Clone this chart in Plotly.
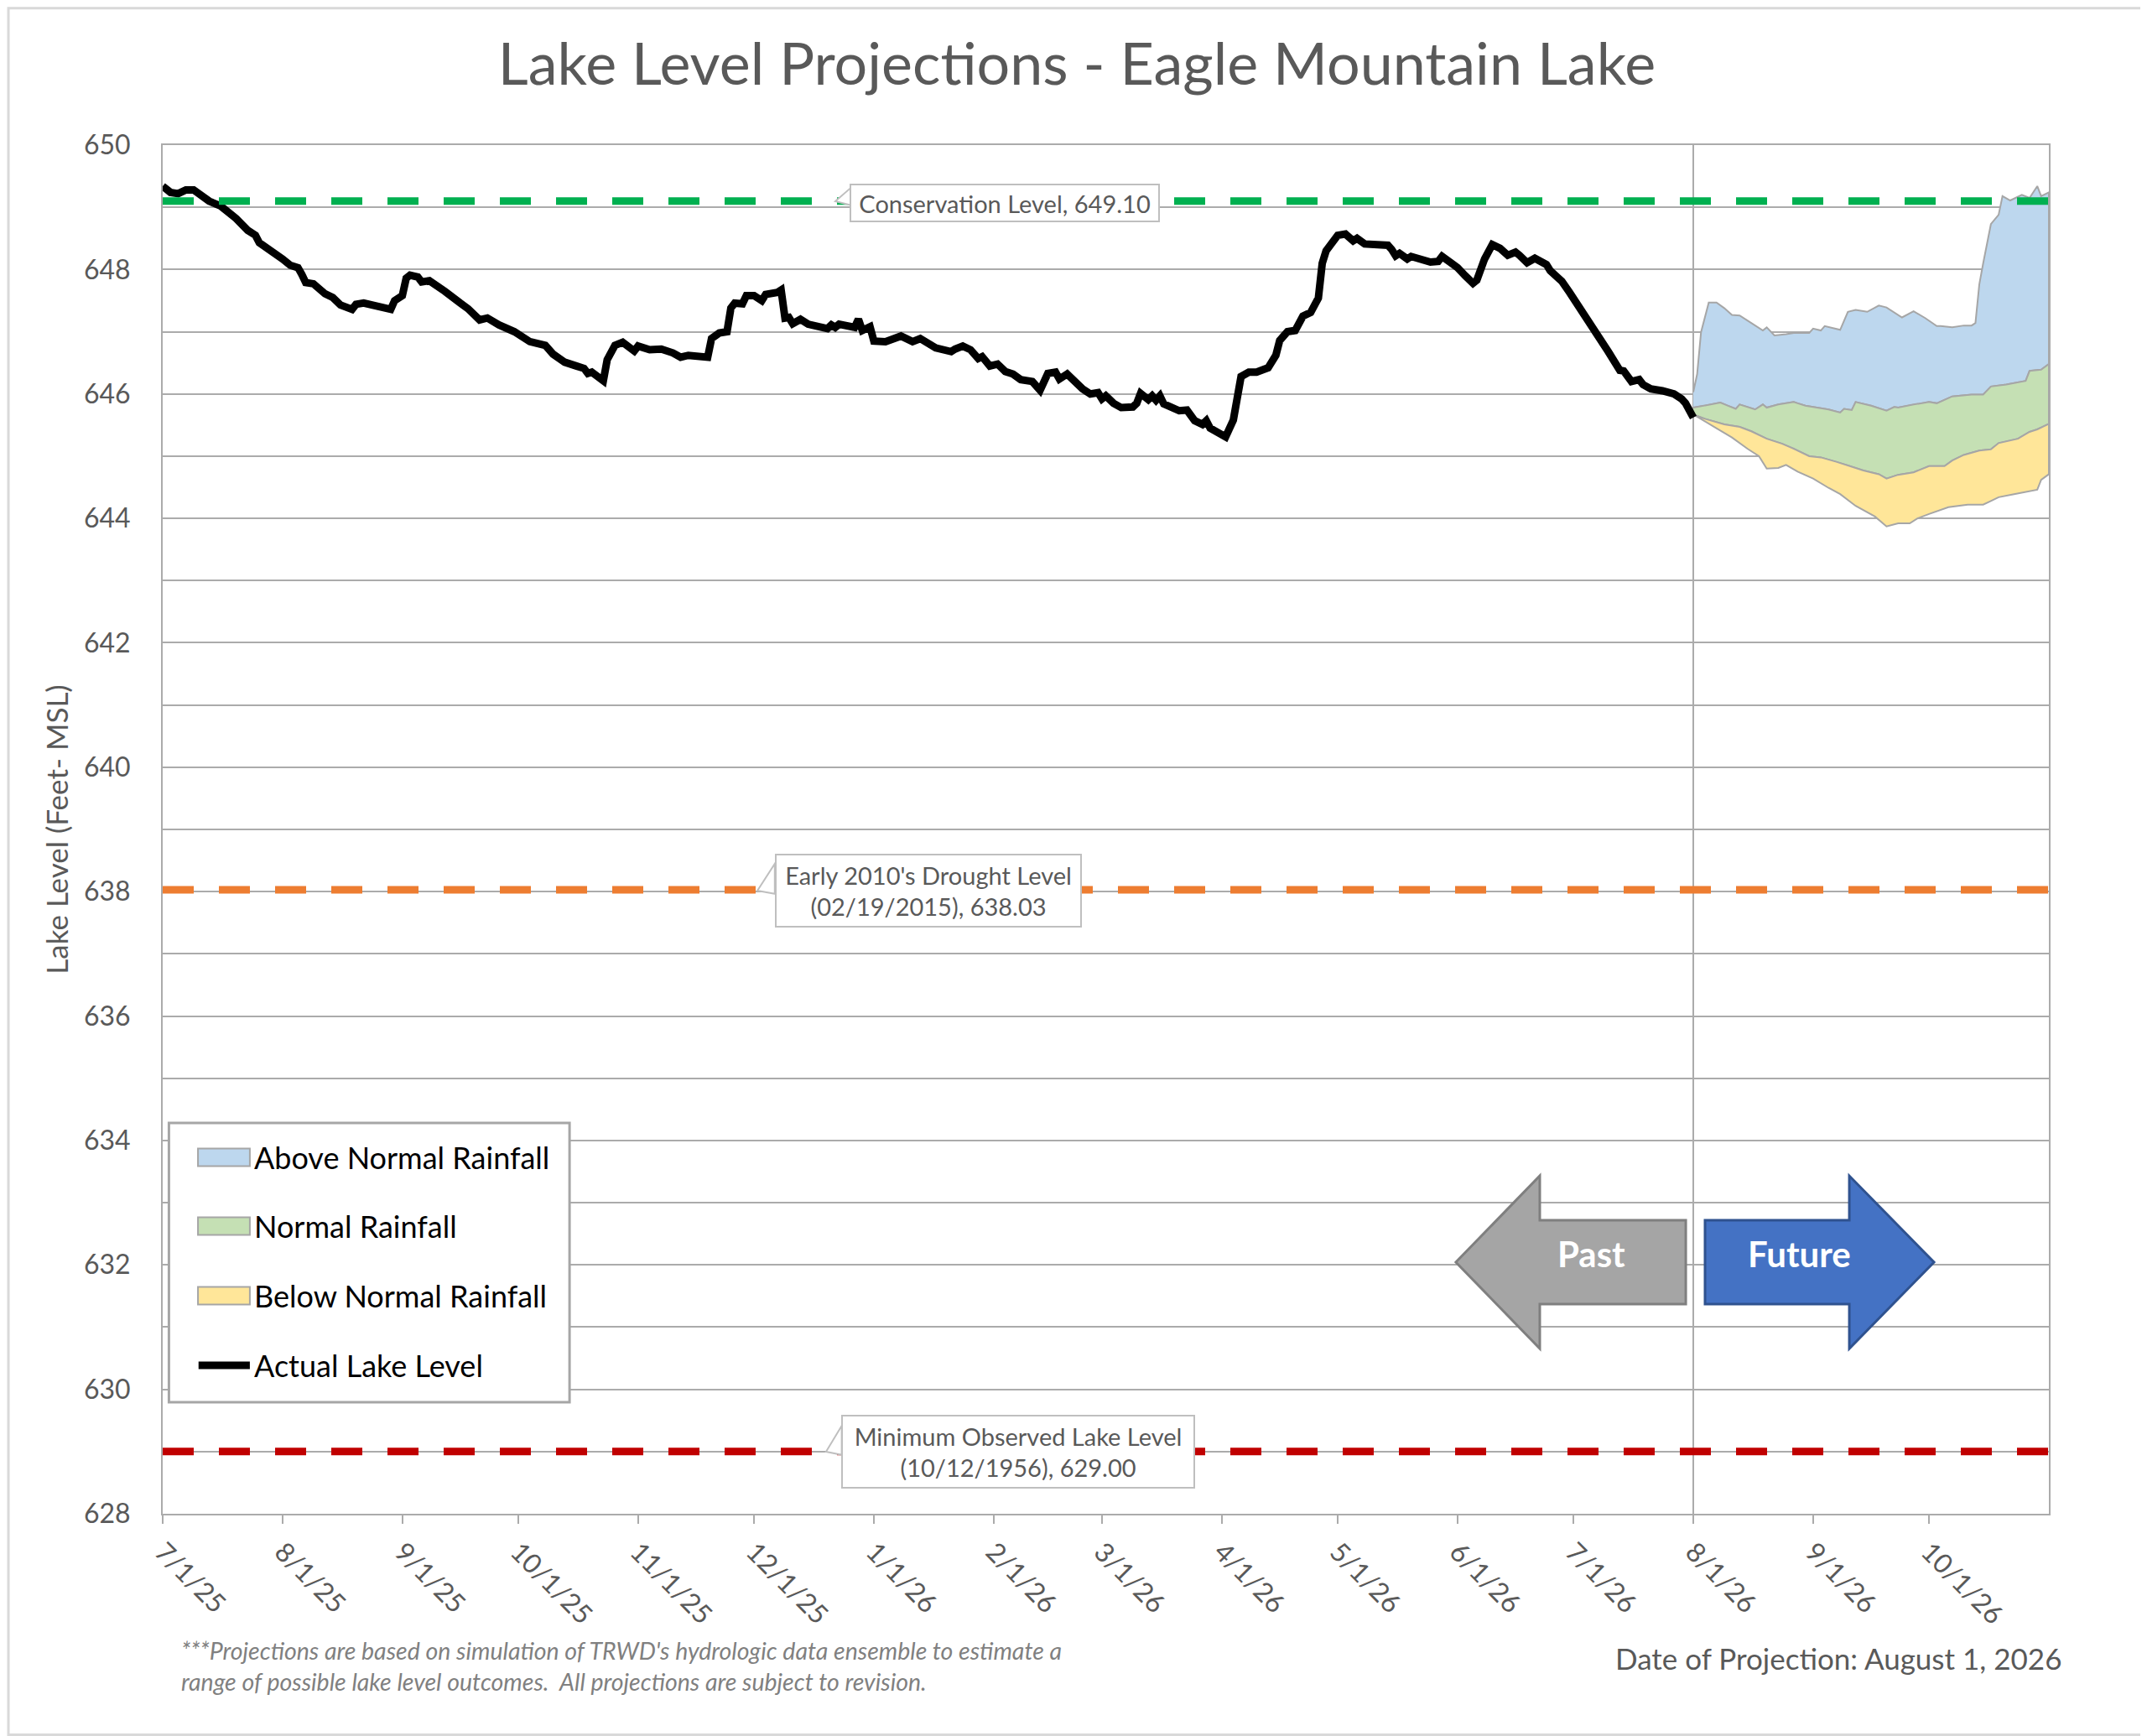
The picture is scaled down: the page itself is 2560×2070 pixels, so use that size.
import plotly.graph_objects as go

# ── Data ──────────────────────────────────────────────────────────────────────

actual_dates = [
    "2025-07-01", "2025-07-03", "2025-07-05", "2025-07-07", "2025-07-09", "2025-07-11",
    "2025-07-13", "2025-07-16", "2025-07-20", "2025-07-23", "2025-07-25", "2025-07-26",
    "2025-07-30", "2025-08-01", "2025-08-03", "2025-08-05", "2025-08-06", "2025-08-07",
    "2025-08-09", "2025-08-12", "2025-08-14", "2025-08-16", "2025-08-19", "2025-08-20",
    "2025-08-22", "2025-08-25", "2025-08-29", "2025-08-30", "2025-09-01", "2025-09-02",
    "2025-09-03", "2025-09-05", "2025-09-06", "2025-09-08", "2025-09-10", "2025-09-12",
    "2025-09-16", "2025-09-18", "2025-09-21", "2025-09-23", "2025-09-26", "2025-09-30",
    "2025-10-04", "2025-10-08", "2025-10-10", "2025-10-13", "2025-10-16", "2025-10-18",
    "2025-10-19", "2025-10-20", "2025-10-23", "2025-10-24", "2025-10-26", "2025-10-28",
    "2025-10-31", "2025-11-01", "2025-11-04", "2025-11-07", "2025-11-10", "2025-11-12",
    "2025-11-14", "2025-11-19", "2025-11-20", "2025-11-22", "2025-11-24", "2025-11-25",
    "2025-11-26", "2025-11-28", "2025-11-29", "2025-12-01", "2025-12-03", "2025-12-04",
    "2025-12-07", "2025-12-08", "2025-12-09", "2025-12-10", "2025-12-11", "2025-12-13",
    "2025-12-15", "2025-12-17", "2025-12-20", "2025-12-21", "2025-12-22", "2025-12-23",
    "2025-12-27", "2025-12-28", "2025-12-29", "2025-12-31", "2026-01-01", "2026-01-04",
    "2026-01-06", "2026-01-08", "2026-01-11", "2026-01-13", "2026-01-17", "2026-01-21",
    "2026-01-22", "2026-01-24", "2026-01-26", "2026-01-28", "2026-01-29", "2026-01-31",
    "2026-02-02", "2026-02-04", "2026-02-06", "2026-02-08", "2026-02-11", "2026-02-13",
    "2026-02-15", "2026-02-17", "2026-02-18", "2026-02-20", "2026-02-24", "2026-02-26",
    "2026-02-28", "2026-03-01", "2026-03-02", "2026-03-04", "2026-03-06", "2026-03-09",
    "2026-03-10", "2026-03-11", "2026-03-13", "2026-03-14", "2026-03-15", "2026-03-16",
    "2026-03-17", "2026-03-19", "2026-03-21", "2026-03-23", "2026-03-25", "2026-03-27",
    "2026-03-28", "2026-03-29", "2026-03-31", "2026-04-02", "2026-04-04", "2026-04-05",
    "2026-04-06", "2026-04-08", "2026-04-10", "2026-04-13", "2026-04-15", "2026-04-16",
    "2026-04-18", "2026-04-20", "2026-04-22", "2026-04-24", "2026-04-26", "2026-04-27",
    "2026-04-28", "2026-05-01", "2026-05-03", "2026-05-05", "2026-05-06", "2026-05-08",
    "2026-05-10", "2026-05-14", "2026-05-15", "2026-05-16", "2026-05-17", "2026-05-19",
    "2026-05-20", "2026-05-23", "2026-05-25", "2026-05-27", "2026-05-28", "2026-05-30",
    "2026-06-01", "2026-06-03", "2026-06-05", "2026-06-06", "2026-06-07", "2026-06-08",
    "2026-06-10", "2026-06-12", "2026-06-14", "2026-06-16", "2026-06-17", "2026-06-19",
    "2026-06-21", "2026-06-24", "2026-06-25", "2026-06-27", "2026-06-28", "2026-06-30",
    "2026-07-03", "2026-07-07", "2026-07-10", "2026-07-13", "2026-07-14", "2026-07-16",
    "2026-07-18", "2026-07-19", "2026-07-21", "2026-07-24", "2026-07-27", "2026-07-29",
    "2026-07-30", "2026-08-01",
]
actual_level = [
    649.34, 649.24, 649.22, 649.28, 649.28, 649.18,
    649.10, 649.02, 648.82, 648.63, 648.55, 648.43,
    648.28, 648.17, 648.07, 648.03, 647.92, 647.79,
    647.77, 647.61, 647.55, 647.43, 647.36, 647.44,
    647.46, 647.42, 647.36, 647.50, 647.58, 647.86,
    647.91, 647.88, 647.80, 647.82, 647.72, 647.65,
    647.46, 647.37, 647.19, 647.22, 647.11, 647.00,
    646.84, 646.78, 646.64, 646.51, 646.45, 646.41,
    646.33, 646.35, 646.21, 646.55, 646.78, 646.83,
    646.69, 646.77, 646.71, 646.72, 646.66, 646.59,
    646.62, 646.59, 646.89, 646.98, 647.00, 647.38,
    647.46, 647.45, 647.58, 647.58, 647.50, 647.60,
    647.63, 647.67, 647.22, 647.23, 647.13, 647.20,
    647.12, 647.10, 647.05, 647.11, 647.07, 647.12,
    647.07, 647.20, 647.02, 647.08, 646.85, 646.84,
    646.87, 646.93, 646.84, 646.89, 646.74, 646.68,
    646.72, 646.77, 646.71, 646.57, 646.60, 646.45,
    646.48, 646.36, 646.32, 646.23, 646.20, 646.06,
    646.33, 646.35, 646.24, 646.32, 646.08, 646.00,
    646.02, 645.92, 645.97, 645.85, 645.78, 645.79,
    645.85, 646.01, 645.91, 645.97, 645.90, 645.97,
    645.84, 645.78, 645.73, 645.74, 645.57, 645.51,
    645.57, 645.45, 645.38, 645.31, 645.58, 646.01,
    646.28, 646.35, 646.35, 646.42, 646.62, 646.86,
    647.00, 647.02, 647.25, 647.31, 647.54, 648.10,
    648.30, 648.55, 648.57, 648.46, 648.50, 648.41,
    648.41, 648.39, 648.32, 648.22, 648.26, 648.17,
    648.21, 648.14, 648.12, 648.13, 648.21, 648.12,
    648.03, 647.90, 647.78, 647.83, 648.05, 648.17,
    648.40, 648.34, 648.23, 648.28, 648.23, 648.11,
    648.18, 648.08, 647.98, 647.87, 647.81, 647.63,
    647.36, 647.00, 646.68, 646.38, 646.37, 646.20,
    646.23, 646.15, 646.08, 646.05, 646.00, 645.92,
    645.85, 645.62,
]

# upper edge of the above-normal band
above_hi_dates = [
    "2026-08-01", "2026-08-02", "2026-08-03", "2026-08-05", "2026-08-07", "2026-08-09",
    "2026-08-11", "2026-08-13", "2026-08-16", "2026-08-19", "2026-08-20", "2026-08-22",
    "2026-08-25", "2026-08-27", "2026-08-31", "2026-09-01", "2026-09-03", "2026-09-04",
    "2026-09-08", "2026-09-10", "2026-09-12", "2026-09-15", "2026-09-18", "2026-09-20",
    "2026-09-24", "2026-09-27", "2026-09-30", "2026-10-03", "2026-10-04", "2026-10-07",
    "2026-10-10", "2026-10-12", "2026-10-13", "2026-10-14", "2026-10-15", "2026-10-17",
    "2026-10-19", "2026-10-20", "2026-10-22", "2026-10-25", "2026-10-27", "2026-10-29",
    "2026-10-30", "2026-11-01",
]
above_hi = [
    646.03, 646.32, 646.99, 647.47, 647.47, 647.38,
    647.27, 647.26, 647.14, 647.02, 647.07, 646.94,
    646.96, 646.98, 646.98, 647.05, 647.02, 647.09,
    647.03, 647.32, 647.35, 647.32, 647.42, 647.39,
    647.23, 647.33, 647.22, 647.09, 647.09, 647.07,
    647.10, 647.10, 647.14, 647.76, 648.10, 648.73,
    648.88, 649.18, 649.11, 649.20, 649.15, 649.34,
    649.18, 649.24,
]

# boundary between above-normal and normal bands
normal_hi_dates = [
    "2026-08-01", "2026-08-04", "2026-08-08", "2026-08-10", "2026-08-12", "2026-08-13",
    "2026-08-17", "2026-08-19", "2026-08-20", "2026-08-23", "2026-08-27", "2026-08-28",
    "2026-08-30", "2026-09-02", "2026-09-05", "2026-09-08", "2026-09-09", "2026-09-11",
    "2026-09-12", "2026-09-16", "2026-09-20", "2026-09-22", "2026-09-23", "2026-09-27",
    "2026-10-01", "2026-10-03", "2026-10-05", "2026-10-07", "2026-10-12", "2026-10-15",
    "2026-10-17", "2026-10-21", "2026-10-26", "2026-10-27", "2026-10-30", "2026-11-01",
]
normal_hi = [
    645.78, 645.81, 645.86, 645.81, 645.76, 645.83,
    645.75, 645.83, 645.78, 645.83, 645.87, 645.85,
    645.81, 645.78, 645.75, 645.70, 645.76, 645.74,
    645.87, 645.81, 645.73, 645.79, 645.78, 645.83,
    645.87, 645.85, 645.91, 645.96, 645.99, 645.99,
    646.12, 646.15, 646.21, 646.37, 646.39, 646.48,
]

# boundary between normal and below-normal bands
below_hi_dates = [
    "2026-08-01", "2026-08-04", "2026-08-09", "2026-08-13", "2026-08-16", "2026-08-20",
    "2026-08-24", "2026-08-27", "2026-08-31", "2026-09-03", "2026-09-07", "2026-09-10",
    "2026-09-14", "2026-09-18", "2026-09-20", "2026-09-23", "2026-09-27", "2026-10-01",
    "2026-10-05", "2026-10-07", "2026-10-10", "2026-10-14", "2026-10-17", "2026-10-19",
    "2026-10-24", "2026-10-27", "2026-10-29", "2026-11-01",
]
below_hi = [
    645.67, 645.60, 645.51, 645.47, 645.40, 645.28,
    645.20, 645.12, 645.00, 644.98, 644.91, 644.85,
    644.77, 644.71, 644.64, 644.70, 644.74, 644.84,
    644.84, 644.93, 645.02, 645.09, 645.11, 645.21,
    645.28, 645.39, 645.43, 645.52,
]

# lower edge of the below-normal band
below_lo_dates = [
    "2026-08-01", "2026-08-06", "2026-08-11", "2026-08-15", "2026-08-18", "2026-08-20",
    "2026-08-23", "2026-08-25", "2026-08-28", "2026-09-01", "2026-09-05", "2026-09-08",
    "2026-09-12", "2026-09-17", "2026-09-20", "2026-09-23", "2026-09-26", "2026-09-28",
    "2026-10-01", "2026-10-06", "2026-10-11", "2026-10-15", "2026-10-17", "2026-10-19",
    "2026-10-23", "2026-10-29", "2026-10-30", "2026-11-01",
]
below_lo = [
    645.67, 645.49, 645.30, 645.12, 645.00, 644.80,
    644.81, 644.86, 644.75, 644.64, 644.49, 644.39,
    644.20, 644.03, 643.87, 643.92, 643.92, 644.00,
    644.07, 644.18, 644.22, 644.22, 644.28, 644.34,
    644.39, 644.46, 644.62, 644.71,
]

CONSERVATION = 649.10
DROUGHT = 638.03
MIN_LEVEL = 629.00
PROJECTION_DATE = "2026-08-01"

month_ticks = [
    "2025-07-01", "2025-08-01", "2025-09-01", "2025-10-01", "2025-11-01", "2025-12-01",
    "2026-01-01", "2026-02-01", "2026-03-01", "2026-04-01", "2026-05-01", "2026-06-01",
    "2026-07-01", "2026-08-01", "2026-09-01", "2026-10-01",
]
month_labels = [
    "7/1/25", "8/1/25", "9/1/25", "10/1/25", "11/1/25", "12/1/25",
    "1/1/26", "2/1/26", "3/1/26", "4/1/26", "5/1/26", "6/1/26",
    "7/1/26", "8/1/26", "9/1/26", "10/1/26",
]

# ── Figure ────────────────────────────────────────────────────────────────────

FONT = "Lato"
GREY_TXT = "#595959"
GRID = "#ABABAB"
EDGE = "#A6A6A6"
BAND_COLORS = {"Above Normal Rainfall": "#BDD7EE",
               "Normal Rainfall": "#C5E0B4",
               "Below Normal Rainfall": "#FFE699"}

fig = go.Figure()


def _band(upper_d, upper, lower_d, lower, name):
    fig.add_trace(go.Scatter(
        x=upper_d + lower_d[::-1], y=upper + lower[::-1],
        fill="toself", fillcolor=BAND_COLORS[name], mode="lines",
        line=dict(color=EDGE, width=2), name=name, showlegend=False,
        hoverinfo="skip",
    ))


_band(above_hi_dates, above_hi, normal_hi_dates, normal_hi, "Above Normal Rainfall")
_band(normal_hi_dates, normal_hi, below_hi_dates, below_hi, "Normal Rainfall")
_band(below_hi_dates, below_hi, below_lo_dates, below_lo, "Below Normal Rainfall")

fig.add_trace(go.Scatter(
    x=actual_dates, y=actual_level, mode="lines",
    line=dict(color="black", width=9), name="Actual Lake Level",
    showlegend=False,
))

# reference levels
for lvl, col in [(CONSERVATION, "#00B050"), (DROUGHT, "#ED7D31"), (MIN_LEVEL, "#C00000")]:
    fig.add_shape(type="line", xref="x domain", yref="y", x0=0, x1=1, y0=lvl, y1=lvl,
                  line=dict(color=col, width=9, dash="37px,30px"))

# projection date marker
fig.add_shape(type="line", xref="x", yref="y domain", x0=PROJECTION_DATE, x1=PROJECTION_DATE,
              y0=0, y1=1, line=dict(color=GRID, width=2), layer="below")

# callout wedges + boxes
callouts = [
    ("Conservation Level, 649.10", 0.4464, 0.958, 362, 38,
     "M0.3566,0.9589 L0.3650,0.9690 L0.3650,0.9560 Z"),
    ("Early 2010's Drought Level<br>(02/19/2015), 638.03", 0.406, 0.4553, 358, 80,
     "M0.3153,0.4553 L0.3245,0.4749 L0.3245,0.4530 Z"),
    ("Minimum Observed Lake Level<br>(10/12/1956), 629.00", 0.4535, 0.0453, 414, 80,
     "M0.3517,0.0453 L0.3600,0.0643 L0.3600,0.0430 Z"),
]
for text, cx, cy, w, h, wedge in callouts:
    fig.add_shape(type="path", xref="x domain", yref="y domain", path=wedge,
                  fillcolor="white", line=dict(color="#BFBFBF", width=2))
    fig.add_annotation(
        text=text, xref="x domain", yref="y domain", x=cx, y=cy,
        xanchor="center", yanchor="middle", showarrow=False,
        width=w, height=h, bgcolor="white", bordercolor="#BFBFBF", borderwidth=2,
        borderpad=2, font=dict(family=FONT, size=29, color=GREY_TXT),
    )

# past / future arrows
fig.add_shape(type="path", xref="x domain", yref="y domain",
              path="M0.6856,0.1838 L0.7301,0.2469 L0.7301,0.2145 L0.8075,0.2145 "
                   "L0.8075,0.1532 L0.7301,0.1532 L0.7301,0.1207 Z",
              fillcolor="#A5A5A5", line=dict(color="#7F7F7F", width=3))
fig.add_shape(type="path", xref="x domain", yref="y domain",
              path="M0.8177,0.2145 L0.8942,0.2145 L0.8942,0.2469 L0.9391,0.1838 "
                   "L0.8942,0.1207 L0.8942,0.1532 L0.8177,0.1532 Z",
              fillcolor="#4472C4", line=dict(color="#2F528F", width=3))
for text, cx in [("Past", 0.7575), ("Future", 0.8675)]:
    fig.add_annotation(text=f"<b>{text}</b>", xref="x domain", yref="y domain",
                       x=cx, y=0.19, xanchor="center", yanchor="middle", showarrow=False,
                       font=dict(family=FONT, size=42, color="white"))

# legend (drawn by hand to get Excel-style swatches)
fig.add_shape(type="rect", xref="x domain", yref="y domain",
              x0=0.0033, x1=0.2157, y0=0.0815, y1=0.2855,
              fillcolor="white", line=dict(color=EDGE, width=3))
legend_rows = [0.2604, 0.2102, 0.1593, 0.1085]
for (name, color), ry in zip(BAND_COLORS.items(), legend_rows):
    fig.add_shape(type="rect", xref="x domain", yref="y domain",
                  x0=0.0187, x1=0.0462, y0=ry - 0.0064, y1=ry + 0.0064,
                  fillcolor=color, line=dict(color=EDGE, width=2))
fig.add_shape(type="line", xref="x domain", yref="y domain",
              x0=0.0190, x1=0.0462, y0=legend_rows[3], y1=legend_rows[3],
              line=dict(color="black", width=9))
for name, ry in zip(list(BAND_COLORS) + ["Actual Lake Level"], legend_rows):
    fig.add_annotation(text=name, xref="x domain", yref="y domain", x=0.0475, y=ry,
                       xanchor="left", yanchor="middle", showarrow=False,
                       font=dict(family=FONT, size=36, color="black"))

# footnotes
fig.add_annotation(
    text="<i>***Projections are based on simulation of TRWD's hydrologic data ensemble to estimate a<br>"
         "range of possible lake level outcomes.  All projections are subject to revision.</i>",
    xref="paper", yref="paper", x=0.0089, y=-0.088, xanchor="left", yanchor="top",
    align="left", showarrow=False, font=dict(family=FONT, size=28.5, color="#808080"),
)
fig.add_annotation(
    text="Date of Projection: August 1, 2026", xref="paper", yref="paper",
    x=1.0076, y=-0.1055, xanchor="right", yanchor="middle", showarrow=False,
    font=dict(family=FONT, size=35, color=GREY_TXT),
)

# outer chart border
fig.add_shape(type="rect", xref="paper", yref="paper",
              x0=-0.0818, x1=1.0511, y0=-0.1614, y1=1.1000,
              line=dict(color="#D9D9D9", width=3))

fig.update_layout(
    width=2552, height=2062,
    margin=dict(l=186, r=117, t=165, b=265),
    paper_bgcolor="white", plot_bgcolor="white",
    font=dict(family=FONT, color=GREY_TXT),
    title=dict(text="Lake Level Projections - Eagle Mountain Lake",
               x=0.5, xanchor="center", y=0.967, yanchor="middle",
               font=dict(family=FONT, size=70, color=GREY_TXT)),
    showlegend=False,
    xaxis=dict(
        range=["2025-07-01", "2026-11-01"], type="date",
        tickvals=month_ticks, ticktext=month_labels, tickangle=45,
        tickfont=dict(family=FONT, size=32, color=GREY_TXT),
        ticks="outside", ticklen=10, tickcolor=GRID, tickwidth=2,
        showgrid=False, showline=True, linecolor=GRID, linewidth=2, mirror=True,
        ticklabelstandoff=2, zeroline=False,
    ),
    yaxis=dict(
        range=[628, 650], dtick=2, tick0=628,
        tickfont=dict(family=FONT, size=32, color=GREY_TXT),
        showgrid=True, gridcolor=GRID, gridwidth=2,
        minor=dict(dtick=1, showgrid=True, gridcolor=GRID, gridwidth=2),
        showline=True, linecolor=GRID, linewidth=2, mirror=True,
        ticks="", ticklabelstandoff=30, zeroline=False,
        title=dict(text="Lake Level (Feet- MSL)", standoff=8,
                   font=dict(family=FONT, size=35, color=GREY_TXT)),
    ),
)

fig.write_html("out.html")
